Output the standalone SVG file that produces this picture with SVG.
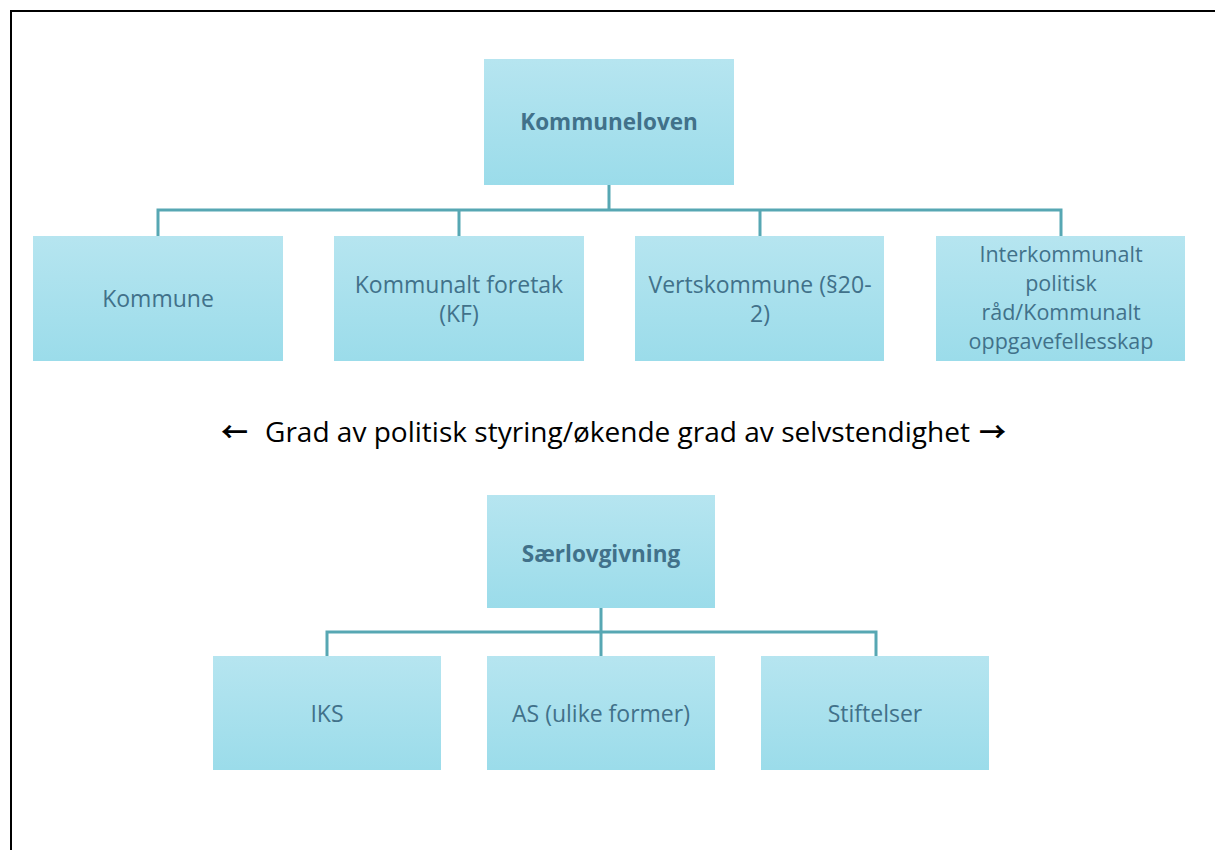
<svg xmlns="http://www.w3.org/2000/svg" width="1215" height="850" viewBox="0 0 1215 850">
<defs>
<linearGradient id="g" x1="0" y1="0" x2="0" y2="1">
<stop offset="0" stop-color="#b6e5f0"/>
<stop offset="1" stop-color="#9bdcea"/>
</linearGradient>
<style>
.box{fill:url(#g);}
.t{font-family:"Open Sans","Liberation Sans",sans-serif;font-size:23px;fill:#41718a;text-anchor:middle;}
.s{font-size:21.5px;}
.b{font-weight:bold;font-size:22.5px;}
.c{fill:none;stroke:#57a7b3;stroke-width:3;}
.m{font-family:"Open Sans","Liberation Sans",sans-serif;font-size:27px;fill:#000;}
.a{font-family:"Noto Sans CJK SC",sans-serif;font-size:27px;font-weight:bold;fill:#000;}
</style>
</defs>
<rect width="1215" height="850" fill="#fff"/>
<path d="M1216,11 H11 V851" fill="none" stroke="#000" stroke-width="2"/>
<g id="connectors">
<path class="c" d="M609,185 V210 M158,236 V210 H1061 V236 M459,210 V236 M760,210 V236"/>
<path class="c" d="M601,608 V632 M327,656 V632 H876 V656 M601,632 V656"/>
</g>
<g id="kommuneloven"><rect class="box" x="484" y="59" width="250" height="126"/><text class="t b" x="609" y="130">Kommuneloven</text></g>
<g id="kommune"><rect class="box" x="33" y="236" width="250" height="125"/><text class="t" x="158" y="307">Kommune</text></g>
<g id="kf"><rect class="box" x="334" y="236" width="250" height="125"/><text class="t" x="459" y="293">Kommunalt foretak</text><text class="t" x="459" y="322">(KF)</text></g>
<g id="vertskommune"><rect class="box" x="635" y="236" width="249" height="125"/><text class="t" x="760" y="293">Vertskommune (§20-</text><text class="t" x="760" y="322">2)</text></g>
<g id="interkommunalt"><rect class="box" x="936" y="236" width="249" height="125"/><text class="t s" x="1061" y="262">Interkommunalt</text><text class="t s" x="1061" y="291">politisk</text><text class="t s" x="1061" y="320">råd/Kommunalt</text><text class="t s" x="1061" y="349">oppgavefellesskap</text></g>
<g id="midtekst">
<text class="a" x="221" y="442">←</text>
<text class="m" x="265" y="442" textLength="705" lengthAdjust="spacingAndGlyphs">Grad av politisk styring/økende grad av selvstendighet</text>
<text class="a" x="979" y="442">→</text>
</g>
<g id="saerlovgivning"><rect class="box" x="487" y="495" width="228" height="113"/><text class="t b" x="601" y="562">Særlovgivning</text></g>
<g id="iks"><rect class="box" x="213" y="656" width="228" height="114"/><text class="t" x="327" y="722">IKS</text></g>
<g id="as"><rect class="box" x="487" y="656" width="228" height="114"/><text class="t" x="601" y="722">AS (ulike former)</text></g>
<g id="stiftelser"><rect class="box" x="761" y="656" width="228" height="114"/><text class="t" x="875" y="722">Stiftelser</text></g>
</svg>
